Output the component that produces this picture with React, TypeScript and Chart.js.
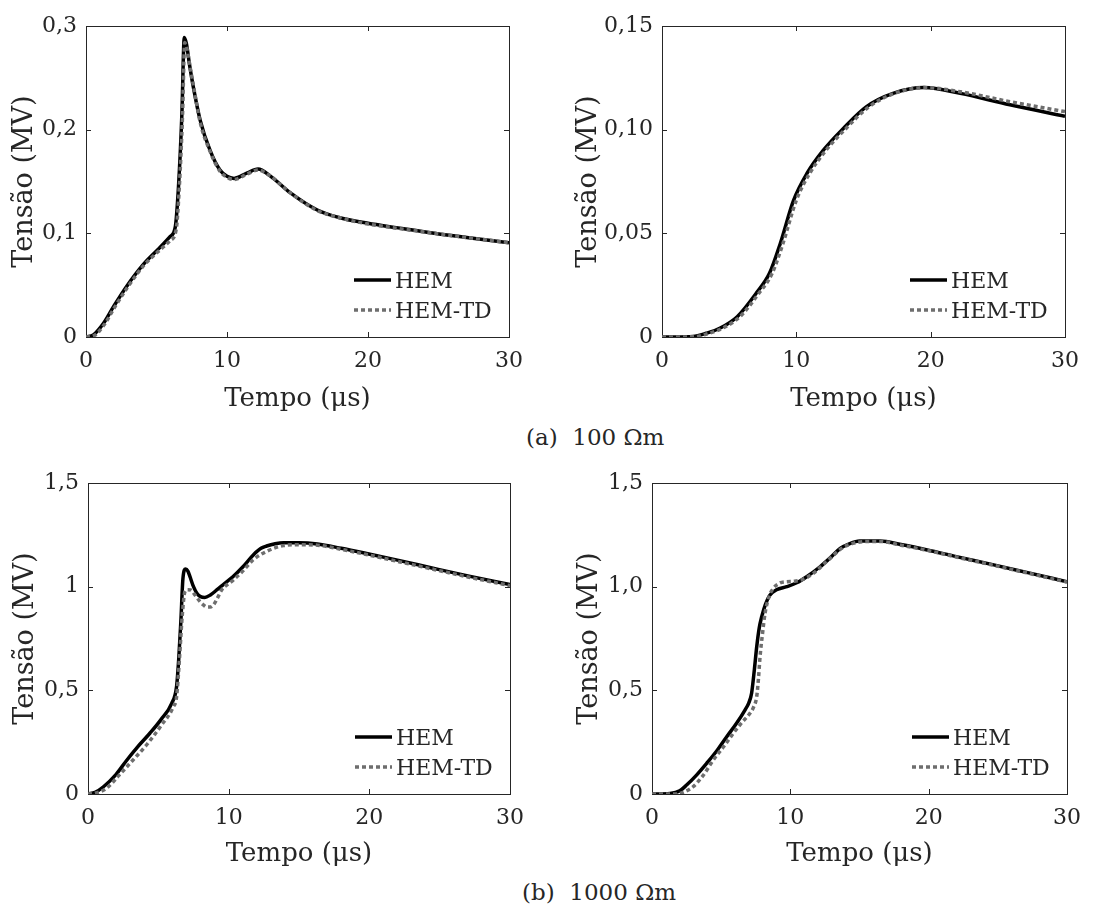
import React, { useEffect, useRef } from "react";
import { Chart, registerables } from "chart.js";

Chart.register(...registerables);

// ---------- data ----------
const xTickValues = [0, 10, 20, 30];
const xTickLabels = ["0", "10", "20", "30"];

// (a) 100 Ωm, left
const a1Ticks = [0, 0.1, 0.2, 0.3];
const a1TickLabels = ["0", "0,1", "0,2", "0,3"];
const a1HemT = [0, 0.52, 1.23, 1.94, 2.89, 4.07, 5.0, 5.5, 5.97, 6.33, 6.56, 6.8, 6.97, 7.12, 7.35, 7.6, 8.1, 8.8, 9.5, 10.0, 10.5, 11.4, 12.2, 13.1, 14.5, 16.4, 18, 20, 22, 24.7, 27, 30];
const a1HemV = [0, 0.002, 0.013, 0.029, 0.049, 0.07, 0.083, 0.09, 0.097, 0.106, 0.145, 0.215, 0.289, 0.283, 0.262, 0.242, 0.209, 0.18, 0.161, 0.155, 0.153, 0.158, 0.162, 0.155, 0.139, 0.1225, 0.115, 0.1097, 0.1055, 0.1, 0.096, 0.091];
const a1TdT = [0, 0.52, 1.3, 2.0, 2.95, 4.1, 5.0, 5.5, 5.97, 6.4, 6.62, 6.85, 7.0, 7.15, 7.4, 7.65, 8.1, 8.8, 9.5, 10.0, 10.5, 11.4, 12.2, 13.1, 14.5, 16.4, 18, 20, 22, 24.7, 27, 30];
const a1TdV = [0, 0.001, 0.012, 0.028, 0.048, 0.069, 0.081, 0.087, 0.093, 0.104, 0.145, 0.215, 0.284, 0.279, 0.259, 0.24, 0.207, 0.179, 0.16, 0.154, 0.152, 0.157, 0.161, 0.155, 0.139, 0.122, 0.115, 0.109, 0.105, 0.1, 0.096, 0.091];

// (a) 100 Ωm, right
const a2Ticks = [0, 0.05, 0.1, 0.15];
const a2TickLabels = ["0", "0,05", "0,10", "0,15"];
const a2HemT = [0, 1, 2.3, 3.3, 4.3, 5.6, 7.0, 8.0, 8.8, 9.8, 10.8, 12.0, 13.5, 15.2, 17.2, 19.5, 22.2, 25.9, 30];
const a2HemV = [0, 0, 0.0002, 0.0018, 0.0042, 0.0098, 0.021, 0.0307, 0.045, 0.066, 0.079, 0.09, 0.1006, 0.111, 0.1175, 0.1203, 0.1175, 0.112, 0.1065];
const a2TdT = [0, 1, 2.5, 3.5, 4.5, 5.8, 7.2, 8.2, 9.0, 10.0, 11.0, 12.2, 13.7, 15.4, 17.3, 19.5, 22.2, 25.9, 30];
const a2TdV = [0, 0, 0.0002, 0.0018, 0.0042, 0.0098, 0.021, 0.0307, 0.045, 0.066, 0.079, 0.09, 0.1006, 0.111, 0.1175, 0.1203, 0.1183, 0.1135, 0.1087];

// (b) 1000 Ωm, left
const b1Ticks = [0, 0.5, 1, 1.5];
const b1TickLabels = ["0", "0,5", "1", "1,5"];
const b1HemT = [0, 0.5, 1.1, 2.0, 2.7, 3.5, 4.4, 5.2, 5.95, 6.3, 6.45, 6.6, 6.75, 6.94, 7.1, 7.25, 7.5, 7.75, 8.0, 8.3, 8.7, 9.15, 9.7, 10.3, 11.0, 11.75, 12.3, 12.7, 13.3, 13.9, 15, 16.3, 18, 19.8, 22, 24.6, 27, 30];
const b1HemV = [0, 0.008, 0.035, 0.095, 0.158, 0.225, 0.293, 0.36, 0.437, 0.52, 0.65, 0.83, 1.04, 1.085, 1.075, 1.048, 1.0, 0.967, 0.952, 0.948, 0.96, 0.984, 1.015, 1.048, 1.095, 1.153, 1.185, 1.196, 1.207, 1.212, 1.212, 1.206, 1.185, 1.16, 1.128, 1.088, 1.052, 1.01];
const b1TdT = [0, 0.5, 1.3, 2.2, 3.2, 4.2, 5.2, 6.07, 6.3, 6.5, 6.7, 6.89, 7.1, 7.3, 7.6, 7.96, 8.2, 8.45, 8.7, 8.95, 9.2, 9.5, 10.3, 11.0, 11.75, 12.7, 13.9, 15, 16.3, 18, 19.8, 22, 24.6, 27, 30];
const b1TdV = [0, 0.004, 0.027, 0.09, 0.164, 0.24, 0.33, 0.421, 0.47, 0.65, 0.86, 0.976, 0.985, 0.984, 0.96, 0.928, 0.912, 0.902, 0.902, 0.915, 0.945, 0.984, 1.03, 1.075, 1.13, 1.17, 1.198, 1.202, 1.2, 1.18, 1.155, 1.122, 1.083, 1.047, 1.005];

// (b) 1000 Ωm, right
const b2Ticks = [0, 0.5, 1, 1.5];
const b2TickLabels = ["0", "0,5", "1,0", "1,5"];
const b2HemT = [0, 1.3, 2.0, 2.5, 3.2, 3.95, 4.7, 5.4, 6.1, 6.72, 7.0, 7.2, 7.4, 7.57, 7.75, 7.93, 8.2, 8.53, 9.0, 9.74, 10.5, 11.18, 12.15, 12.9, 13.6, 14.3, 15.0, 16.5, 18, 19.9, 22, 24.7, 27, 30];
const b2HemV = [0, 0.003, 0.015, 0.043, 0.09, 0.148, 0.21, 0.276, 0.34, 0.405, 0.44, 0.486, 0.6, 0.71, 0.8, 0.855, 0.915, 0.96, 0.985, 1.0, 1.02, 1.048, 1.096, 1.14, 1.184, 1.208, 1.22, 1.22, 1.203, 1.177, 1.145, 1.105, 1.07, 1.024];
const b2TdT = [0, 1.8, 2.4, 2.97, 3.7, 4.43, 5.2, 5.88, 6.5, 7.08, 7.35, 7.57, 7.7, 7.81, 8.0, 8.17, 8.45, 8.77, 9.26, 9.7, 10.3, 10.9, 11.66, 12.6, 13.83, 14.6, 15.5, 16.5, 18, 19.9, 22, 24.7, 27, 30];
const b2TdV = [0, 0, 0.012, 0.035, 0.09, 0.164, 0.23, 0.293, 0.345, 0.389, 0.42, 0.47, 0.56, 0.662, 0.78, 0.871, 0.95, 0.992, 1.018, 1.024, 1.026, 1.035, 1.064, 1.12, 1.19, 1.21, 1.218, 1.218, 1.2, 1.175, 1.143, 1.103, 1.068, 1.022];

const seriesNames = ["HEM", "HEM-TD"];
const xTitle = "Tempo (\u03BCs)";
const yTitle = "Tensão (MV)";
const captionA = "(a)  100 \u03A9m";
const captionB = "(b)  1000 \u03A9m";

// ---------- styles ----------
const FONT = '"DejaVu Serif", "Liberation Serif", serif';
const TEXT = "#262626";
const HEM_COLOR = "#000000";
const TD_COLOR = "#6e6e6e";

const CW = 549;
const CH = 420;

type Panel = {
  left: number;
  top: number;
  padTop: number;
  padRight: number;
  yWidth: number;
  xHeight: number;
  yTitlePad: number;
  xTitlePad: number;
  yMax: number;
  yTicks: number[];
  yLabels: string[];
  hemT: number[];
  hemV: number[];
  tdT: number[];
  tdV: number[];
};

const panels: Panel[] = [
  { left: 0, top: 0, padTop: 26, padRight: 40, yWidth: 86, xHeight: 83, yTitlePad: 9, xTitlePad: 5, yMax: 0.3, yTicks: a1Ticks, yLabels: a1TickLabels, hemT: a1HemT, hemV: a1HemV, tdT: a1TdT, tdV: a1TdV },
  { left: 549, top: 0, padTop: 26, padRight: 33, yWidth: 113, xHeight: 83, yTitlePad: 24, xTitlePad: 5, yMax: 0.15, yTicks: a2Ticks, yLabels: a2TickLabels, hemT: a2HemT, hemV: a2HemV, tdT: a2TdT, tdV: a2TdV },
  { left: 0, top: 450, padTop: 33, padRight: 39, yWidth: 88, xHeight: 76, yTitlePad: 10, xTitlePad: 0, yMax: 1.5, yTicks: b1Ticks, yLabels: b1TickLabels, hemT: b1HemT, hemV: b1HemV, tdT: b1TdT, tdV: b1TdV },
  { left: 549, top: 450, padTop: 33, padRight: 31, yWidth: 103, xHeight: 76, yTitlePad: 25, xTitlePad: 0, yMax: 1.5, yTicks: b2Ticks, yLabels: b2TickLabels, hemT: b2HemT, hemV: b2HemV, tdT: b2TdT, tdV: b2TdV },
];

const framePlugin = {
  id: "frameTicks",
  beforeDatasetsDraw(chart: any) {
    const { ctx, chartArea, scales } = chart;
    const { left, right, top, bottom } = chartArea;
    const len = 5;
    ctx.save();
    ctx.strokeStyle = TEXT;
    ctx.lineWidth = 1;
    ctx.strokeRect(Math.round(left) + 0.5, Math.round(top) + 0.5, Math.round(right - left), Math.round(bottom - top));
    ctx.beginPath();
    scales.x.ticks.forEach((t: any) => {
      const px = Math.round(scales.x.getPixelForValue(t.value)) + 0.5;
      ctx.moveTo(px, bottom);
      ctx.lineTo(px, bottom - len);
      ctx.moveTo(px, top);
      ctx.lineTo(px, top + len);
    });
    scales.y.ticks.forEach((t: any) => {
      const py = Math.round(scales.y.getPixelForValue(t.value)) + 0.5;
      ctx.moveTo(left, py);
      ctx.lineTo(left + len, py);
      ctx.moveTo(right, py);
      ctx.lineTo(right - len, py);
    });
    ctx.stroke();
    ctx.restore();
  },
};

const legendPlugin = {
  id: "insideLegend",
  afterDatasetsDraw(chart: any) {
    const { ctx, chartArea } = chart;
    const x0 = chartArea.right - 155;
    ctx.save();
    chart.data.datasets.forEach((ds: any, i: number) => {
      const y = chartArea.bottom - 57 + i * 30;
      ctx.strokeStyle = ds.borderColor;
      ctx.lineWidth = ds.borderWidth;
      ctx.setLineDash(ds.borderDash || []);
      ctx.lineCap = "butt";
      ctx.beginPath();
      ctx.moveTo(x0, y);
      ctx.lineTo(x0 + 37, y);
      ctx.stroke();
      ctx.setLineDash([]);
      ctx.fillStyle = TEXT;
      ctx.font = `22px ${FONT}`;
      ctx.textBaseline = "alphabetic";
      ctx.textAlign = "left";
      ctx.fillText(ds.label, x0 + 41, y + 8);
    });
    ctx.restore();
  },
};

function PanelChart({ p }: { p: Panel }) {
  const ref = useRef<HTMLCanvasElement>(null);
  useEffect(() => {
    if (!ref.current) return;
    const chart = new Chart(ref.current, {
      type: "line",
      data: {
        datasets: [
          {
            label: seriesNames[0],
            data: p.hemT.map((t, i) => ({ x: t, y: p.hemV[i] })),
            borderColor: HEM_COLOR,
            borderWidth: 3.5,
            pointRadius: 0,
            cubicInterpolationMode: "monotone",
            fill: false,
            order: 2,
          },
          {
            label: seriesNames[1],
            data: p.tdT.map((t, i) => ({ x: t, y: p.tdV[i] })),
            borderColor: TD_COLOR,
            borderWidth: 3.5,
            borderDash: [4, 3],
            borderCapStyle: "butt",
            pointRadius: 0,
            cubicInterpolationMode: "monotone",
            fill: false,
            order: 1,
          },
        ],
      },
      options: {
        responsive: false,
        animation: false,
        layout: { padding: { top: p.padTop, right: p.padRight, left: 0, bottom: 0 } },
        plugins: { legend: { display: false }, tooltip: { enabled: false } },
        scales: {
          x: {
            type: "linear",
            min: 0,
            max: 30,
            afterBuildTicks: (s: any) => {
              s.ticks = xTickValues.map((v) => ({ value: v }));
            },
            afterFit: (s: any) => {
              s.height = p.xHeight;
            },
            grid: { display: false, drawTicks: false },
            border: { display: false },
            ticks: {
              autoSkip: false,
              maxRotation: 0,
              padding: 11,
              color: TEXT,
              font: { family: FONT, size: 22 },
              callback: (_v: any, i: number) => xTickLabels[i],
            },
            title: {
              display: true,
              text: xTitle,
              color: TEXT,
              font: { family: FONT, size: 26, lineHeight: 1.2 },
              padding: { top: 0, bottom: p.xTitlePad },
            },
          },
          y: {
            type: "linear",
            min: 0,
            max: p.yMax,
            afterBuildTicks: (s: any) => {
              s.ticks = p.yTicks.map((v) => ({ value: v }));
            },
            afterFit: (s: any) => {
              s.width = p.yWidth;
            },
            grid: { display: false, drawTicks: false },
            border: { display: false },
            ticks: {
              autoSkip: false,
              padding: 9,
              color: TEXT,
              font: { family: FONT, size: 22 },
              callback: (_v: any, i: number) => p.yLabels[i],
            },
            title: {
              display: true,
              text: yTitle,
              color: TEXT,
              font: { family: FONT, size: 27, lineHeight: 1.2 },
              padding: { top: p.yTitlePad, bottom: 0 },
            },
          },
        },
      } as any,
      plugins: [framePlugin, legendPlugin],
    });
    return () => chart.destroy();
  }, [p]);
  return (
    <canvas
      ref={ref}
      width={CW}
      height={CH}
      style={{ position: "absolute", left: p.left, top: p.top, width: CW, height: CH }}
    />
  );
}

const captionStyle: React.CSSProperties = {
  position: "absolute",
  fontFamily: FONT,
  fontSize: 23,
  lineHeight: "24px",
  color: TEXT,
  whiteSpace: "pre",
};

export default function App() {
  return (
    <div style={{ position: "absolute", left: 0, top: 0, width: 1098, height: 906, background: "#ffffff", overflow: "hidden" }}>
      {panels.map((p, i) => (
        <PanelChart key={i} p={p} />
      ))}
      <div style={{ ...captionStyle, left: 526, top: 425 }}>{captionA}</div>
      <div style={{ ...captionStyle, left: 522, top: 880 }}>{captionB}</div>
    </div>
  );
}
